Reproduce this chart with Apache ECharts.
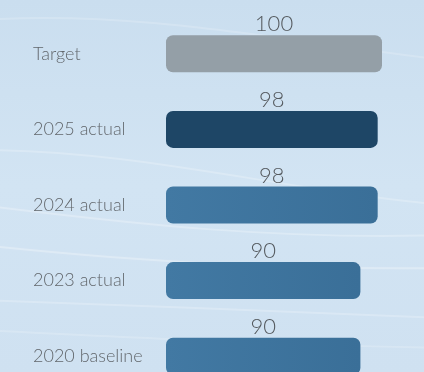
<!DOCTYPE html>
<html>
<head>
<meta charset="utf-8">
<script src="https://cdn.jsdelivr.net/npm/echarts@6/dist/echarts.min.js"></script>
<style>
  html, body { margin: 0; padding: 0; }
  #chart { width: 424px; height: 372px; }
</style>
</head>
<body>
<div id="chart"></div>
<script>
// Categories listed top to bottom
const categories = ['Target', '2025 actual', '2024 actual', '2023 actual', '2020 baseline'];
const values = [100, 98, 98, 90, 90];
const barColors = ['#949fa7', '#1e4666', '#3f77a1', '#3f77a1', '#3f77a1'];

const chart = echarts.init(document.getElementById('chart'), null, { renderer: 'canvas' });

// faint white streaks across the backdrop
const streaks = [
  { y1: 20, c1: 10, c2: 40, y2: 60, o: 0.18 },
  { y1: 150, c1: 150, c2: 190, y2: 205, o: 0.22 },
  { y1: 205, c1: 225, c2: 240, y2: 235, o: 0.25 },
  { y1: 245, c1: 262, c2: 270, y2: 268, o: 0.28 },
  { y1: 300, c1: 305, c2: 312, y2: 318, o: 0.22 },
  { y1: 330, c1: 338, c2: 345, y2: 348, o: 0.18 }
];

const graphicEls = streaks.map(s => ({
  type: 'bezierCurve',
  silent: true,
  z: -10,
  shape: { x1: -20, y1: s.y1, cpx1: 140, cpy1: s.c1, cpx2: 280, cpy2: s.c2, x2: 444, y2: s.y2 },
  style: { stroke: 'rgba(255,255,255,' + s.o + ')', lineWidth: 2, fill: null, shadowBlur: 8, shadowColor: 'rgba(255,255,255,0.5)' }
}));

chart.setOption({
  backgroundColor: {
    type: 'linear', x: 0, y: 0, x2: 0, y2: 1,
    colorStops: [
      { offset: 0, color: '#cadeef' },
      { offset: 0.5, color: '#d2e4f3' },
      { offset: 1, color: '#cfe1f1' }
    ]
  },
  graphic: graphicEls,
  grid: { left: 166, width: 216, top: 16, height: 378, containLabel: false, outerBoundsMode: 'none' },
  xAxis: {
    type: 'value', min: 0, max: 100,
    show: false
  },
  yAxis: {
    type: 'category',
    data: categories,
    inverse: true,
    axisLine: { show: false },
    axisTick: { show: false },
    axisLabel: {
      align: 'left',
      margin: 133,
      fontFamily: 'Lato, "Open Sans", sans-serif',
      fontWeight: 300,
      fontSize: 18,
      color: '#62676c'
    }
  },
  series: [{
    type: 'bar',
    barWidth: 37,
    data: values.map((v, i) => ({
      value: v,
      itemStyle: {
        color: i >= 2 ? {
          type: 'linear', x: 0, y: 0, x2: 1, y2: 0,
          colorStops: [{ offset: 0, color: '#4279a3' }, { offset: 1, color: '#3a6f98' }]
        } : barColors[i]
      }
    })),
    itemStyle: { borderRadius: 7 },
    label: {
      show: true,
      position: 'top',
      distance: 0,
      fontFamily: 'Lato, "Open Sans", sans-serif',
      fontWeight: 300,
      fontSize: 22,
      color: '#54595e'
    },
    silent: true
  }]
});
</script>
</body>
</html>
